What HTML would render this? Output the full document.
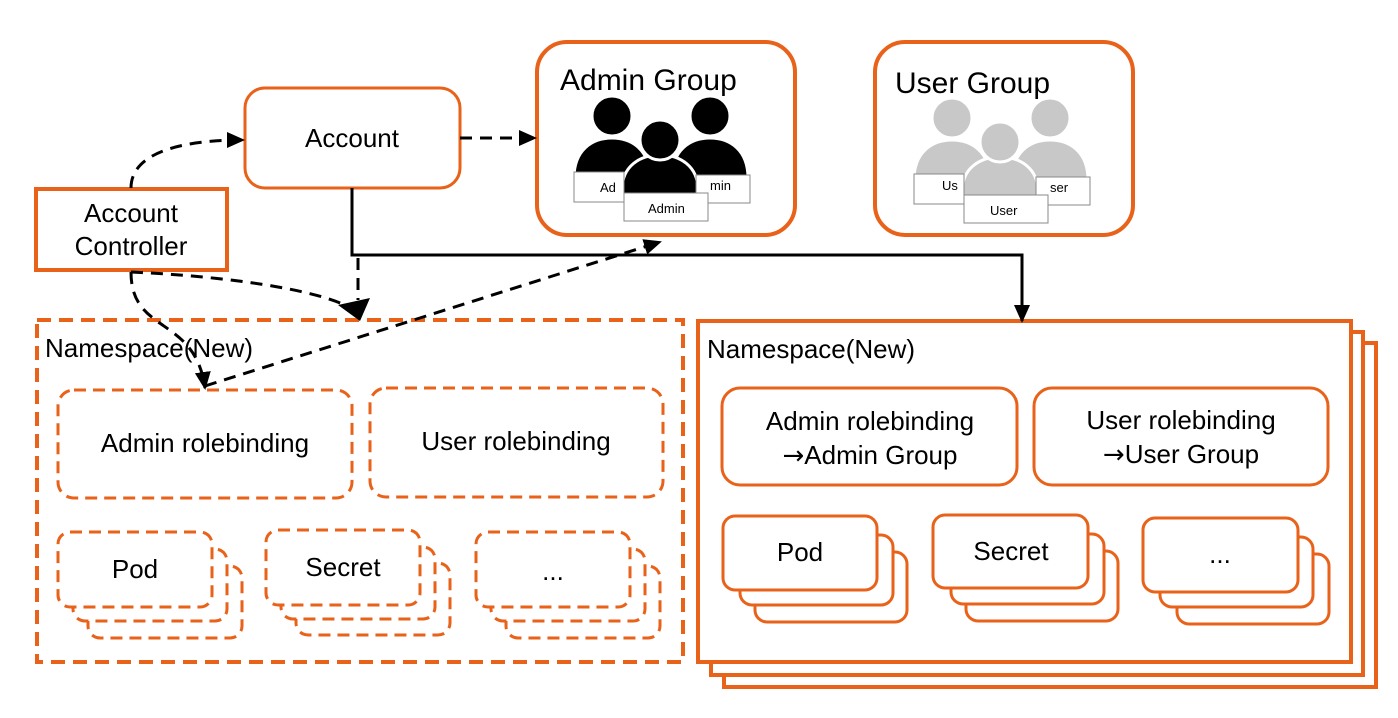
<!DOCTYPE html>
<html><head><meta charset="utf-8"><style>
html,body{margin:0;padding:0;background:#fff;}
svg{display:block;}
text{font-family:"Liberation Sans",sans-serif;fill:#000;}
</style></head><body>
<svg width="1398" height="718" viewBox="0 0 1398 718" xmlns="http://www.w3.org/2000/svg">
<defs>
<marker id="ah" markerWidth="18" markerHeight="16" refX="16" refY="8" orient="auto" markerUnits="userSpaceOnUse" viewBox="0 0 18 16">
<path d="M0,0 L18,8 L0,16 z" fill="#000"/></marker>
</defs>
<g fill="#fff" stroke="#e8621a">
<rect x="245" y="88" width="215" height="100" rx="20" stroke-width="3"/>
<rect x="36" y="189" width="191" height="81" stroke-width="4"/>
<rect x="537" y="42" width="258" height="193" rx="30" stroke-width="4"/>
<rect x="875" y="42" width="258" height="193" rx="30" stroke-width="4"/>
<rect x="37" y="320" width="646" height="342" stroke-width="4" stroke-dasharray="14,8"/>
<g stroke-width="3" stroke-dasharray="12,7">
<rect x="58" y="390" width="294" height="108" rx="16"/>
<rect x="370" y="388" width="293" height="109" rx="16"/>
<rect x="88" y="566" width="154" height="72" rx="12"/>
<rect x="73" y="549" width="154" height="72" rx="12"/>
<rect x="58" y="532" width="154" height="75" rx="12"/>
<rect x="296" y="563" width="154" height="72" rx="12"/>
<rect x="281" y="547" width="154" height="72" rx="12"/>
<rect x="266" y="530" width="154" height="75" rx="12"/>
<rect x="506" y="566" width="154" height="72" rx="12"/>
<rect x="491" y="549" width="154" height="72" rx="12"/>
<rect x="476" y="532" width="154" height="75" rx="12"/>
</g>
<rect x="724" y="343" width="652" height="344" stroke-width="4"/>
<rect x="711" y="332" width="652" height="343" stroke-width="4"/>
<rect x="698" y="321" width="653" height="341" stroke-width="4"/>
<g stroke-width="3">
<rect x="722" y="388" width="295" height="97" rx="18"/>
<rect x="1034" y="388" width="294" height="97" rx="18"/>
<rect x="755" y="552" width="152" height="70" rx="12"/>
<rect x="740" y="535" width="153" height="70" rx="12"/>
<rect x="723" y="516" width="154" height="74" rx="12"/>
<rect x="966" y="551" width="152" height="70" rx="12"/>
<rect x="951" y="534" width="153" height="70" rx="12"/>
<rect x="933" y="515" width="155" height="73" rx="12"/>
<rect x="1177" y="554" width="152" height="70" rx="12"/>
<rect x="1160" y="537" width="153" height="70" rx="12"/>
<rect x="1143" y="518" width="155" height="74" rx="12"/>
</g>
</g>
<g>
<g fill="#000" stroke="#fff" stroke-width="3">
<path d="M574,200 L574,178 C574,150 592,138 612,138 C632,138 650,150 650,178 L650,200 z"/>
<circle cx="612" cy="116" r="20"/>
<path d="M672,200 L672,178 C672,150 690,138 710,138 C730,138 748,150 748,178 L748,200 z"/>
<circle cx="710" cy="116" r="20"/>
<path d="M622,205 L622,190 C622,166 640,155 660,155 C680,155 698,166 698,190 L698,205 z"/>
<circle cx="660" cy="140" r="20"/>
</g>
<g fill="#fff" stroke="#888" stroke-width="1">
<rect x="574" y="172" width="50" height="30"/><rect x="696" y="175" width="54" height="28"/><rect x="624" y="193" width="84" height="28"/>
</g>
<text x="600" y="192" font-size="13">Ad</text><text x="710" y="190" font-size="13">min</text><text x="648" y="213" font-size="13">Admin</text>
<g fill="#c8c8c8" stroke="#fff" stroke-width="3" transform="translate(340,2)">
<path d="M574,200 L574,178 C574,150 592,138 612,138 C632,138 650,150 650,178 L650,200 z"/>
<circle cx="612" cy="116" r="20"/>
<path d="M672,200 L672,178 C672,150 690,138 710,138 C730,138 748,150 748,178 L748,200 z"/>
<circle cx="710" cy="116" r="20"/>
<path d="M622,205 L622,190 C622,166 640,155 660,155 C680,155 698,166 698,190 L698,205 z"/>
<circle cx="660" cy="140" r="20"/>
</g>
<g fill="#fff" stroke="#888" stroke-width="1" transform="translate(340,2)">
<rect x="574" y="172" width="50" height="30"/><rect x="696" y="175" width="54" height="28"/><rect x="624" y="193" width="84" height="28"/>
</g>
<text x="942" y="190" font-size="13">Us</text><text x="1050" y="192" font-size="13">ser</text><text x="990" y="215" font-size="13">User</text>
</g>
<g fill="none" stroke="#000" stroke-width="3">
<path d="M352,188 L352,255 L1022,255 L1022,321" marker-end="url(#ah)"/>
<g stroke-dasharray="12,8">
<path d="M131,188 C131,155 175,140 243,140" marker-end="url(#ah)"/>
<path d="M460,138 L535,138" marker-end="url(#ah)"/>
<path d="M358,258 L358,300"/>
<path d="M131,272 C200,275 300,285 345,305"/>
<path d="M131,272 C131,335 195,315 205,388" marker-end="url(#ah)"/>
<path d="M205,386 L660,242" marker-end="url(#ah)"/>
</g>
</g>
<path d="M338,305 L370,298 L360,321 z" fill="#000"/>
<g font-size="26" text-anchor="middle">
<text x="352" y="147">Account</text>
<text x="131" y="222">Account</text>
<text x="131" y="255">Controller</text>
<text x="205" y="452">Admin rolebinding</text>
<text x="516" y="450">User rolebinding</text>
<text x="135" y="578">Pod</text>
<text x="343" y="576">Secret</text>
<text x="553" y="580">...</text>
<text x="870" y="430">Admin rolebinding</text>
<text x="870" y="464"><tspan font-family="DejaVu Sans">→</tspan>Admin Group</text>
<text x="1181" y="429">User rolebinding</text>
<text x="1181" y="463"><tspan font-family="DejaVu Sans">→</tspan>User Group</text>
<text x="800" y="561">Pod</text>
<text x="1011" y="560">Secret</text>
<text x="1220" y="563">...</text>
</g>
<text x="560" y="90" font-size="30">Admin Group</text>
<text x="895" y="93" font-size="30">User Group</text>
<text x="45" y="357" font-size="26">Namespace(New)</text>
<text x="707" y="358" font-size="26">Namespace(New)</text>
</svg>
</body></html>
